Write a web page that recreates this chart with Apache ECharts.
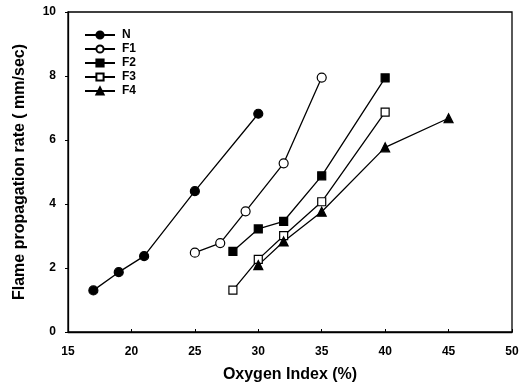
<!DOCTYPE html>
<html>
<head>
<meta charset="utf-8">
<script src="https://cdn.jsdelivr.net/npm/echarts@6/dist/echarts.min.js"></script>
<style>
  html, body { margin: 0; padding: 0; background: #fff; }
  #chart { width: 525px; height: 389px; }
</style>
</head>
<body>
<div id="chart"></div>
<script>
// data: [oxygen index %, flame propagation rate mm/sec]
const seriesNames = ["N", "F1", "F2", "F3", "F4"];
const dataN  = [[17, 1.3], [19, 1.87], [21, 2.37], [25, 4.4], [30, 6.82]];
const dataF1 = [[25, 2.48], [27, 2.78], [29, 3.77], [32, 5.27], [35, 7.95]];
const dataF2 = [[28, 2.52], [30, 3.22], [32, 3.46], [35, 4.88], [40, 7.94]];
const dataF3 = [[28, 1.31], [30, 2.27], [32, 3.01], [35, 4.07], [40, 6.87]];
const dataF4 = [[30, 2.09], [32, 2.83], [35, 3.76], [40, 5.77], [45, 6.68]];

const chart = echarts.init(document.getElementById("chart"));

const fontFam = "'Liberation Sans', Arial, sans-serif";

function mk(name, data, symbol, filled, size) {
  return {
    name: name,
    type: "line",
    data: data,
    symbol: symbol,
    symbolSize: size,
    showAllSymbol: true,
    color: "#000",
    lineStyle: { color: "#000", width: 1.3 },
    itemStyle: {
      color: filled ? "#000" : "#fff",
      borderColor: "#000",
      borderWidth: 1.2
    },
    z: 3
  };
}

const option = {
  backgroundColor: "#fff",
  animation: false,
  textStyle: { fontFamily: fontFam },
  grid: { left: 68, right: 13, top: 12, bottom: 57 },
  legend: {
    left: 79,
    top: 24,
    orient: "vertical",
    itemWidth: 30,
    itemHeight: 9,
    itemGap: 2,
    data: seriesNames,
    textStyle: { fontWeight: "bold", fontSize: 12, color: "#000", fontFamily: fontFam, padding: [0, 0, 0, 2] }
  },
  xAxis: {
    type: "value",
    min: 15, max: 50, interval: 5,
    name: "Oxygen Index (%)",
    nameLocation: "middle",
    nameGap: 35,
    nameTextStyle: { fontWeight: "bold", fontSize: 16, color: "#000", fontFamily: fontFam },
    axisLine: { show: true, lineStyle: { color: "#000", width: 1.3 } },
    axisTick: { show: true, inside: true, length: 3, lineStyle: { color: "#000" } },
    axisLabel: { fontWeight: "bold", fontSize: 12, color: "#000", margin: 14 },
    splitLine: { show: false }
  },
  yAxis: {
    type: "value",
    min: 0, max: 10, interval: 2,
    name: "Flame propagation rate ( mm/sec)",
    nameLocation: "middle",
    nameGap: 40,
    nameTextStyle: { fontWeight: "bold", fontSize: 16, color: "#000", fontFamily: fontFam },
    axisLine: { show: true, lineStyle: { color: "#000", width: 1.3 } },
    axisTick: { show: true, length: 3, lineStyle: { color: "#000" } },
    axisLabel: { fontWeight: "bold", fontSize: 12, color: "#000", margin: 12 },
    splitLine: { show: false }
  },
  series: [
    mk("N", dataN, "circle", true, 9),
    mk("F1", dataF1, "circle", false, 9),
    mk("F2", dataF2, "rect", true, 8),
    mk("F3", dataF3, "rect", false, 8),
    mk("F4", dataF4, "triangle", true, 9)
  ],
  graphic: [
    {
      type: "rect",
      shape: { x: 68, y: 12, width: 444, height: 320 },
      style: { fill: "none", stroke: "#000", lineWidth: 1.3 },
      silent: true
    }
  ]
};

chart.setOption(option);
</script>
</body>
</html>
